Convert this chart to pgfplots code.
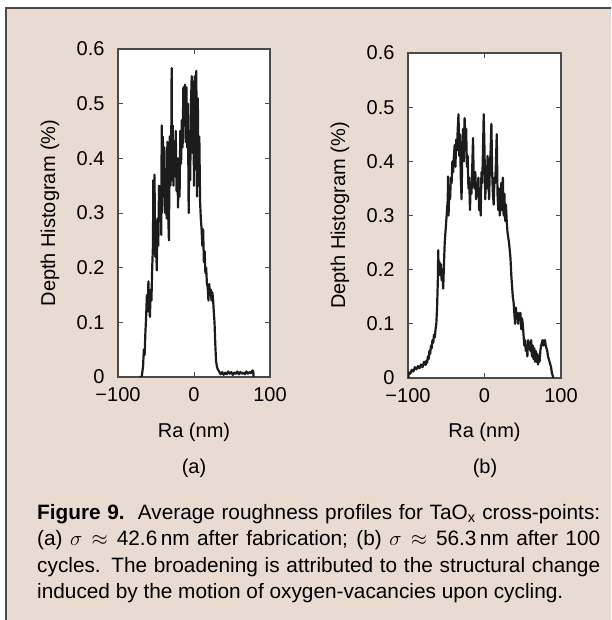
\documentclass[border=0pt]{standalone}
\usepackage{fontspec}
\setmainfont{Liberation Sans}
\usepackage{pgfplots}
\pgfplotsset{compat=1.18}
\definecolor{panel}{HTML}{E8DCD2}
\definecolor{frame}{HTML}{4A4A4A}
\definecolor{trace}{HTML}{1C1C1C}

\pgfplotstableread{
x y
-72 0
-68.8 0
-67 0.02
-66 0.05
-65 0.04
-64 0.08
-63 0.11
-62 0.15
-61 0.12
-60 0.175
-59 0.13
-58 0.11
-57 0.16
-56 0.14
-55 0.2
-54 0.24
-53.5 0.36
-53 0.25
-52 0.37
-51 0.22
-50 0.26
-49 0.195
-48 0.29
-47 0.24
-46 0.35
-45 0.31
-44.7 0.305
-44 0.34
-43 0.26
-42.5 0.46
-42 0.3
-41 0.44
-40 0.33
-39 0.42
-38 0.3
-37 0.38
-36 0.29
-35 0.43
-34 0.3
-33 0.25
-32 0.44
-31 0.35
-30 0.41
-29.4 0.565
-29 0.36
-28 0.46
-27 0.35
-26 0.42
-25 0.37
-24 0.45
-23 0.34
-22 0.4
-21 0.31
-20 0.4
-19 0.33
-18 0.45
-17 0.39
-16 0.47
-15 0.42
-14 0.53
-13 0.46
-12 0.535
-11 0.43
-10 0.53
-9 0.42
-8 0.5
-7 0.3
-6 0.45
-5 0.36
-4 0.5
-3 0.55
-2 0.41
-1 0.54
0 0.35
1 0.55
2 0.38
3 0.56
4 0.33
5 0.51
6 0.35
7 0.44
8 0.32
9 0.29
10 0.27
11 0.24
12 0.27
13 0.21
14 0.23
15 0.19
16 0.2
17 0.17
18 0.165
19 0.14
20 0.17
21 0.15
22 0.16
23 0.14
24 0.155
25 0.145
26 0.12
27 0.1
28 0.06
29 0.03
30 0.02
31 0.015
33 0.01
35 0.005
37 0.009
39 0.004
41 0.008
43 0.005
45 0.01
47 0.006
49 0.009
51 0.004
53 0.008
55 0.006
57 0.01
59 0.005
61 0.009
63 0.006
65 0.008
67 0.005
69 0.01
71 0.006
73 0.009
75 0.007
77 0.012
78 0.01
78.5 0
}\rougha

\pgfplotstableread{
x y
-99.5 0
-99 0.01
-97 0.008
-95 0.015
-93 0.012
-91 0.02
-89 0.016
-87 0.022
-85 0.018
-83 0.025
-81 0.02
-79 0.03
-77 0.024
-76 0.032
-75 0.028
-74 0.04
-73 0.035
-72 0.05
-71 0.045
-70 0.06
-69 0.055
-68 0.07
-67 0.065
-66 0.08
-65 0.075
-64 0.09
-63 0.1
-62 0.13
-61 0.18
-60.5 0.236
-60 0.2
-59 0.215
-58 0.19
-57 0.21
-56 0.18
-55 0.2
-54 0.165
-53 0.21
-52 0.25
-51 0.27
-50 0.29
-49 0.31
-48 0.33
-47.7 0.372
-47 0.3
-46 0.35
-45 0.33
-44 0.37
-43 0.36
-42 0.4
-41 0.38
-40 0.41
-39 0.43
-38 0.39
-37 0.44
-36 0.42
-35 0.46
-34 0.487
-33 0.41
-32 0.45
-31 0.37
-30 0.33
-29 0.42
-28 0.46
-27 0.4
-26 0.48
-25 0.44
-24 0.46
-23 0.39
-22 0.41
-21 0.35
-20 0.37
-19 0.31
-18 0.36
-17 0.34
-16 0.39
-15 0.443
-14 0.36
-13 0.35
-12 0.38
-11 0.33
-10 0.36
-9 0.34
-8 0.37
-7 0.31
-6 0.35
-5 0.3
-4 0.38
-3 0.36
-2 0.42
-1 0.487
0 0.42
1 0.33
2 0.39
3 0.35
4 0.41
5 0.37
6 0.33
7 0.39
8 0.42
9 0.469
10 0.38
11 0.34
12 0.32
13 0.37
14 0.36
15 0.4
16 0.45
17 0.34
18 0.31
19 0.35
20 0.3
21 0.33
22 0.36
23 0.31
24 0.37
25 0.3
26 0.34
27 0.29
28 0.32
29 0.29
30 0.27
31 0.26
32 0.25
33 0.236
34 0.22
35 0.19
36 0.17
37 0.15
38 0.14
39 0.12
40 0.1
41 0.13
42 0.11
43 0.12
44 0.1
45 0.12
46 0.11
47 0.12
48 0.09
49 0.11
50 0.1
51 0.08
52 0.06
53 0.07
54 0.05
55 0.06
56 0.04
57 0.07
58 0.055
59 0.065
60 0.05
61 0.07
62 0.04
63 0.06
64 0.035
65 0.055
66 0.03
67 0.05
68 0.03
69 0.045
70 0.025
71 0.04
72 0.03
73 0.05
74 0.06
75 0.065
76 0.07
77 0.06
78 0.065
79 0.07
80 0.06
81 0.055
82 0.05
83 0.04
84 0.035
85 0.03
86 0.025
87 0.02
88 0.01
89 0.005
90 0
}\roughb

\pgfplotsset{
  roughaxis/.style={
    scale only axis,
    xmin=-100,xmax=100,ymin=0,ymax=0.6,
    xtick={-100,0,100},xticklabels={−100,0,100},
    ytick={0,0.1,0.2,0.3,0.4,0.5,0.6},
    yticklabels={0,0.1,0.2,0.3,0.4,0.5,0.6},
    tick align=inside,major tick length=5pt,
    axis background/.style={fill=white},
    axis line style={draw=frame,line width=1.1pt},
    every tick/.style={draw=frame,line width=0.9pt},
    ticklabel style={font=\fontsize{20}{24}\selectfont},
    xticklabel style={yshift=-7pt},
    yticklabel style={xshift=-10pt},
    label style={font=\fontsize{20}{24}\selectfont},
    xlabel={Ra (nm)},ylabel={Depth Histogram (\%)},
  },
}

\begin{document}
\begin{tikzpicture}[x=1pt,y=1pt]
\useasboundingbox (0,0) rectangle (611,620);
\fill[panel] (6,0) rectangle (611,612);
\draw[frame,line width=1.4pt] (6,0) -- (6,612) -- (611,612);

\begin{axis}[roughaxis,
  at={(118pt,243pt)},anchor=south west,width=152pt,height=328pt,
  xlabel style={at={(axis description cs:0.5,-0.168)},anchor=center},
  ylabel style={at={(axis description cs:-0.447,0.5)},anchor=center}]
\addplot[trace,line width=2.2pt,line join=round] table[x=x,y=y] {\rougha};
\end{axis}

\begin{axis}[roughaxis,
  at={(408pt,242pt)},anchor=south west,width=153pt,height=325pt,
  xlabel style={at={(axis description cs:0.5,-0.166)},anchor=center},
  ylabel style={at={(axis description cs:-0.444,0.5)},anchor=center}]
\addplot[trace,line width=2.2pt,line join=round] table[x=x,y=y] {\roughb};
\end{axis}

\node[font=\fontsize{20}{24}\selectfont] at (194,152) {(a)};
\node[font=\fontsize{20}{24}\selectfont] at (485,152) {(b)};

\node[anchor=north west,inner sep=0pt,text width=563pt,align=justify,
  font=\fontsize{20.8}{26.5}\selectfont] at (37,116)
  {\hyphenpenalty=10000 \textbf{Figure 9.}\ \ Average roughness profiles for TaO\textsubscript{x} cross-points:\linebreak
  (a) $\sigma\approx{}$42.6\,nm after fabrication; (b) $\sigma\approx{}$56.3\,nm after 100\linebreak
  cycles. The broadening is attributed to the structural change\linebreak
  induced by the motion of oxygen-vacancies upon cycling.};
\end{tikzpicture}
\end{document}
